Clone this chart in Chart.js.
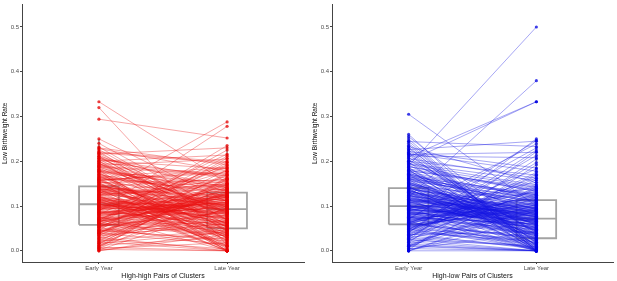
<!DOCTYPE html>
<html>
<head>
<meta charset="utf-8">
<script src="https://cdn.jsdelivr.net/npm/chart.js@4/dist/chart.umd.min.js"></script>
<style>
  html, body { margin: 0; padding: 0; background: #ffffff; }
  #wrap { position: relative; width: 617px; height: 281px; overflow: hidden; }
  canvas { position: absolute; top: 0; }
</style>
</head>
<body>
<div id="wrap">
  <canvas id="c1" width="308" height="281" style="left:0px"></canvas>
  <canvas id="c2" width="307" height="281" style="left:310px"></canvas>
</div>
<script>
// ---- data ----
const categories = ['Early Year', 'Late Year'];
const yTicks = [0.0, 0.1, 0.2, 0.3, 0.4, 0.5];
const panelTitles = ['High-high Pairs of Clusters', 'High-low Pairs of Clusters'];

// High-high pairs: early and late low birthweight rate per cluster pair
const hhEarly = [
  0.104, 0.182, 0.035, 0.127, 0.066, 0.215, 0.012, 0.151, 0.089, 0.333,
  0.047, 0.118, 0.199, 0.073, 0.140, 0.000, 0.095, 0.163, 0.056, 0.320,
  0.131, 0.021, 0.176, 0.108, 0.062, 0.222, 0.084, 0.044, 0.145, 0.294,
  0.098, 0.205, 0.038, 0.121, 0.071, 0.157, 0.005, 0.113, 0.188, 0.250,
  0.059, 0.136, 0.027, 0.092, 0.171, 0.078, 0.210, 0.051, 0.124, 0.100,
  0.167, 0.015, 0.087, 0.142, 0.064, 0.193, 0.041, 0.110, 0.232, 0.080,
  0.125, 0.031, 0.153, 0.069, 0.218, 0.097, 0.009, 0.138, 0.057, 0.179,
  0.083, 0.112, 0.046, 0.201, 0.129, 0.018, 0.160, 0.075, 0.106, 0.240,
  0.053, 0.147, 0.093, 0.185, 0.024, 0.116, 0.068, 0.134, 0.002, 0.196,
  0.102, 0.061, 0.174, 0.039, 0.120, 0.086, 0.212, 0.049, 0.143, 0.077,
  0.155, 0.028, 0.099, 0.065, 0.133, 0.190, 0.011, 0.115, 0.081, 0.226,
  0.043, 0.107, 0.165, 0.070, 0.139, 0.034, 0.091, 0.207, 0.055, 0.122,
  0.148, 0.090, 0.017, 0.128, 0.060, 0.181, 0.103, 0.040, 0.159, 0.074,
  0.111, 0.195, 0.052, 0.137, 0.007, 0.085, 0.169, 0.063, 0.119, 0.000,
  0.012, 0.025, 0.033, 0.048, 0.058, 0.067, 0.079, 0.088, 0.096, 0.105,
  0.114, 0.123, 0.132, 0.141, 0.150, 0.158, 0.166, 0.177, 0.186, 0.197,
  0.208, 0.219, 0.228, 0.020, 0.044, 0.062, 0.081, 0.101, 0.117, 0.135,
  0.154, 0.172, 0.191, 0.211, 0.005, 0.030, 0.054, 0.072, 0.094, 0.109,
  0.126, 0.144, 0.161, 0.183, 0.202, 0.016, 0.039, 0.066, 0.085, 0.099,
  0.121, 0.139, 0.156, 0.175, 0.194, 0.216, 0.008, 0.045, 0.075, 0.113,
  0.130, 0.148, 0.170, 0.189, 0.061, 0.091, 0.108, 0.127, 0.145, 0.164,
  0.037, 0.052, 0.070, 0.087, 0.103, 0.118, 0.134, 0.152, 0.180, 0.200,
  0.022, 0.058, 0.082, 0.097, 0.111, 0.125, 0.143, 0.162, 0.187, 0.221,
  0.003, 0.041, 0.069, 0.093, 0.116, 0.137, 0.158, 0.178, 0.205, 0.230
];
const hhLate = [
  0.061, 0.048, 0.132, 0.288, 0.115, 0.070, 0.094, 0.020, 0.278, 0.152,
  0.105, 0.000, 0.083, 0.141, 0.057, 0.036, 0.186, 0.011, 0.125, 0.013,
  0.074, 0.160, 0.000, 0.098, 0.201, 0.044, 0.119, 0.088, 0.030, 0.252,
  0.136, 0.052, 0.171, 0.009, 0.102, 0.066, 0.128, 0.000, 0.079, 0.110,
  0.146, 0.025, 0.092, 0.178, 0.041, 0.113, 0.058, 0.197, 0.007, 0.122,
  0.033, 0.164, 0.109, 0.055, 0.235, 0.086, 0.139, 0.016, 0.069, 0.096,
  0.050, 0.130, 0.000, 0.190, 0.081, 0.037, 0.155, 0.100, 0.064, 0.004,
  0.117, 0.072, 0.207, 0.027, 0.091, 0.143, 0.046, 0.124, 0.000, 0.084,
  0.168, 0.039, 0.108, 0.060, 0.133, 0.018, 0.225, 0.076, 0.095, 0.053,
  0.089, 0.127, 0.022, 0.181, 0.063, 0.104, 0.043, 0.148, 0.112, 0.000,
  0.062, 0.137, 0.078, 0.120, 0.010, 0.093, 0.159, 0.035, 0.216, 0.067,
  0.126, 0.047, 0.085, 0.106, 0.002, 0.174, 0.056, 0.097, 0.135, 0.031,
  0.071, 0.192, 0.114, 0.040, 0.150, 0.000, 0.082, 0.129, 0.023, 0.099,
  0.012, 0.087, 0.121, 0.054, 0.163, 0.107, 0.029, 0.211, 0.068, 0.045,
  0.030, 0.004, 0.061, 0.022, 0.079, 0.040, 0.098, 0.058, 0.121, 0.072,
  0.093, 0.146, 0.101, 0.118, 0.089, 0.174, 0.129, 0.151, 0.112, 0.168,
  0.140, 0.196, 0.178, 0.000, 0.068, 0.035, 0.110, 0.084, 0.063, 0.155,
  0.122, 0.094, 0.205, 0.132, 0.018, 0.000, 0.087, 0.049, 0.127, 0.071,
  0.103, 0.160, 0.135, 0.097, 0.183, 0.042, 0.015, 0.095, 0.050, 0.116,
  0.081, 0.107, 0.184, 0.143, 0.120, 0.230, 0.000, 0.026, 0.056, 0.091,
  0.149, 0.077, 0.123, 0.171, 0.038, 0.113, 0.065, 0.138, 0.102, 0.187,
  0.054, 0.011, 0.090, 0.064, 0.131, 0.099, 0.112, 0.158, 0.145, 0.214,
  0.047, 0.033, 0.108, 0.075, 0.086, 0.150, 0.119, 0.141, 0.167, 0.199,
  0.000, 0.060, 0.044, 0.106, 0.082, 0.124, 0.177, 0.136, 0.162, 0.192
];

// High-low pairs
const hlEarly = [
  0.100, 0.190, 0.120, 0.210, 0.305, 0.065, 0.143, 0.028, 0.087, 0.255,
  0.052, 0.131, 0.200, 0.075, 0.004, 0.112, 0.168, 0.040, 0.095, 0.236,
  0.146, 0.018, 0.083, 0.181, 0.061, 0.124, 0.000, 0.107, 0.225, 0.070,
  0.035, 0.157, 0.098, 0.214, 0.057, 0.139, 0.012, 0.090, 0.175, 0.116,
  0.128, 0.047, 0.260, 0.079, 0.150, 0.022, 0.103, 0.192, 0.066, 0.134,
  0.009, 0.118, 0.171, 0.055, 0.093, 0.229, 0.037, 0.141, 0.081, 0.162,
  0.109, 0.063, 0.203, 0.030, 0.126, 0.086, 0.245, 0.050, 0.153, 0.099,
  0.072, 0.185, 0.014, 0.136, 0.060, 0.111, 0.220, 0.043, 0.096, 0.166,
  0.122, 0.000, 0.149, 0.077, 0.196, 0.025, 0.104, 0.068, 0.240, 0.089,
  0.054, 0.132, 0.006, 0.178, 0.092, 0.115, 0.033, 0.159, 0.074, 0.208,
  0.138, 0.085, 0.250, 0.045, 0.101, 0.064, 0.172, 0.019, 0.119, 0.097,
  0.059, 0.144, 0.091, 0.186, 0.002, 0.127, 0.071, 0.232, 0.048, 0.106,
  0.164, 0.031, 0.113, 0.080, 0.218, 0.058, 0.135, 0.010, 0.094, 0.155,
  0.076, 0.198, 0.042, 0.123, 0.088, 0.000, 0.181, 0.067, 0.110, 0.140,
  0.010, 0.024, 0.036, 0.049, 0.062, 0.073, 0.082, 0.091, 0.102, 0.114,
  0.125, 0.137, 0.148, 0.160, 0.173, 0.188, 0.201, 0.217, 0.233, 0.005,
  0.041, 0.067, 0.089, 0.108, 0.129, 0.151, 0.176, 0.206, 0.015, 0.053,
  0.078, 0.097, 0.117, 0.133, 0.158, 0.183, 0.222, 0.000, 0.029, 0.058,
  0.084, 0.105, 0.121, 0.142, 0.165, 0.193, 0.212, 0.044, 0.070, 0.093,
  0.112, 0.130, 0.147, 0.170, 0.038, 0.061, 0.087, 0.100, 0.119, 0.139,
  0.156, 0.180, 0.026, 0.050, 0.075, 0.098, 0.115, 0.134, 0.152, 0.168,
  0.195, 0.226, 0.012, 0.047, 0.071, 0.090, 0.108, 0.127, 0.145, 0.163,
  0.188, 0.215, 0.033, 0.064, 0.083, 0.101, 0.123, 0.141, 0.161, 0.179,
  0.020, 0.056, 0.079, 0.095, 0.114, 0.131, 0.150, 0.171, 0.200, 0.244
];
const hlLate = [
  0.048, 0.500, 0.380, 0.333, 0.100, 0.121, 0.015, 0.087, 0.000, 0.034,
  0.105, 0.000, 0.333, 0.060, 0.042, 0.078, 0.022, 0.250, 0.131, 0.009,
  0.026, 0.094, 0.117, 0.000, 0.183, 0.055, 0.072, 0.140, 0.011, 0.246,
  0.163, 0.038, 0.070, 0.019, 0.108, 0.000, 0.091, 0.129, 0.050, 0.081,
  0.062, 0.213, 0.003, 0.112, 0.031, 0.159, 0.085, 0.044, 0.000, 0.067,
  0.120, 0.052, 0.000, 0.098, 0.239, 0.017, 0.175, 0.075, 0.113, 0.029,
  0.083, 0.148, 0.040, 0.197, 0.007, 0.066, 0.000, 0.126, 0.058, 0.089,
  0.230, 0.013, 0.104, 0.046, 0.137, 0.071, 0.024, 0.167, 0.000, 0.093,
  0.036, 0.098, 0.064, 0.000, 0.079, 0.221, 0.049, 0.110, 0.005, 0.153,
  0.096, 0.028, 0.143, 0.057, 0.073, 0.000, 0.124, 0.020, 0.088, 0.041,
  0.010, 0.068, 0.000, 0.134, 0.053, 0.099, 0.035, 0.205, 0.076, 0.115,
  0.145, 0.000, 0.082, 0.023, 0.192, 0.060, 0.102, 0.001, 0.127, 0.069,
  0.032, 0.171, 0.077, 0.107, 0.000, 0.092, 0.045, 0.139, 0.065, 0.014,
  0.101, 0.003, 0.225, 0.074, 0.051, 0.090, 0.000, 0.106, 0.039, 0.061,
  0.000, 0.012, 0.043, 0.005, 0.026, 0.061, 0.034, 0.078, 0.050, 0.088,
  0.066, 0.101, 0.079, 0.125, 0.092, 0.143, 0.108, 0.178, 0.152, 0.000,
  0.021, 0.037, 0.070, 0.056, 0.097, 0.083, 0.119, 0.162, 0.000, 0.018,
  0.045, 0.063, 0.089, 0.071, 0.110, 0.136, 0.185, 0.000, 0.008, 0.031,
  0.052, 0.076, 0.095, 0.084, 0.128, 0.147, 0.208, 0.014, 0.039, 0.058,
  0.081, 0.069, 0.112, 0.099, 0.004, 0.027, 0.046, 0.073, 0.062, 0.090,
  0.118, 0.134, 0.000, 0.023, 0.040, 0.059, 0.086, 0.077, 0.103, 0.121,
  0.157, 0.245, 0.000, 0.016, 0.048, 0.035, 0.067, 0.094, 0.082, 0.115,
  0.132, 0.220, 0.009, 0.029, 0.054, 0.065, 0.091, 0.074, 0.107, 0.141,
  0.000, 0.019, 0.042, 0.057, 0.080, 0.096, 0.088, 0.124, 0.169, 0.233
];

// Box statistics: [lower whisker, Q1, median, Q3, upper whisker]
const hhBoxEarly = [0.000, 0.058, 0.104, 0.144, 0.250];
const hhBoxLate  = [0.000, 0.050, 0.093, 0.130, 0.235];
const hlBoxEarly = [0.000, 0.059, 0.100, 0.140, 0.260];
const hlBoxLate  = [0.000, 0.028, 0.072, 0.113, 0.250];

// ---- chart construction ----
const BOX_HALF = 0.155;
const FONT = "'Liberation Sans', Arial, Helvetica, sans-serif";

function boxDatasets(pos, s) {
  const x0 = pos - BOX_HALF, x1 = pos + BOX_HALF;
  const common = { showLine: true, borderColor: '#a3a3a3', borderWidth: 1.8, pointRadius: 0, order: 10, tension: 0 };
  return [
    Object.assign({ data: [{x: x0, y: s[1]}, {x: x1, y: s[1]}, {x: x1, y: s[3]}, {x: x0, y: s[3]}, {x: x0, y: s[1]}] }, common),
    Object.assign({ data: [{x: x0, y: s[2]}, {x: x1, y: s[2]}] }, common),
    Object.assign({ data: [{x: pos, y: s[3]}, {x: pos, y: s[4]}] }, common),
    Object.assign({ data: [{x: pos, y: s[0]}, {x: pos, y: s[1]}] }, common)
  ];
}

function makeChart(id, early, late, boxE, boxL, lineColor, pointColor, title, padRight) {
  const datasets = [];
  for (let i = 0; i < early.length; i++) {
    datasets.push({
      data: [{x: 1, y: early[i]}, {x: 2, y: late[i]}],
      showLine: true,
      borderColor: lineColor,
      borderWidth: 0.9,
      pointRadius: 1.6,
      pointBackgroundColor: pointColor,
      pointBorderWidth: 0,
      order: 1
    });
  }
  boxDatasets(1, boxE).forEach(d => datasets.push(d));
  boxDatasets(2, boxL).forEach(d => datasets.push(d));

  new Chart(document.getElementById(id), {
    type: 'scatter',
    data: { datasets },
    options: {
      responsive: false,
      devicePixelRatio: 1,
      animation: false,
      events: [],
      layout: { padding: { left: 0, top: 3, right: padRight, bottom: 0 } },
      plugins: { legend: { display: false }, tooltip: { enabled: false } },
      scales: {
        x: {
          type: 'linear', min: 0.4, max: 2.6,
          afterBuildTicks: s => { s.ticks = [{value: 1}, {value: 2}]; },
          afterFit: s => { s.height = 19; },
          ticks: {
            callback: v => categories[Math.round(v) - 1],
            color: '#4d4d4d', font: { size: 6, family: FONT }, padding: 1,
            autoSkip: false, maxRotation: 0
          },
          grid: { display: true, drawOnChartArea: false, drawTicks: true, tickLength: 2, color: '#444', tickColor: '#444' },
          border: { display: true, color: '#444', width: 1 },
          title: { display: true, text: title, color: '#111', font: { size: 7, family: FONT }, padding: { top: 1, bottom: 1 } }
        },
        y: {
          type: 'linear', min: -0.025, max: 0.55,
          afterBuildTicks: s => { s.ticks = yTicks.map(v => ({value: v})); },
          afterFit: s => { s.width = 22; },
          ticks: {
            callback: v => v.toFixed(1),
            color: '#4d4d4d', font: { size: 6, family: FONT }, padding: 1
          },
          grid: { display: true, drawOnChartArea: false, drawTicks: true, tickLength: 2, color: '#444', tickColor: '#444' },
          border: { display: true, color: '#444', width: 1 },
          title: { display: true, text: 'Low Birthweight Rate', color: '#111', font: { size: 6.5, family: FONT }, padding: { top: 1, bottom: 1 } }
        }
      }
    }
  });
}

makeChart('c1', hhEarly, hhLate, hhBoxEarly, hhBoxLate, 'rgba(235,20,20,0.42)', 'rgba(230,0,0,0.75)', panelTitles[0], 2);
makeChart('c2', hlEarly, hlLate, hlBoxEarly, hlBoxLate, 'rgba(20,20,225,0.42)', 'rgba(0,0,225,0.75)', panelTitles[1], 1);
</script>
</body>
</html>
